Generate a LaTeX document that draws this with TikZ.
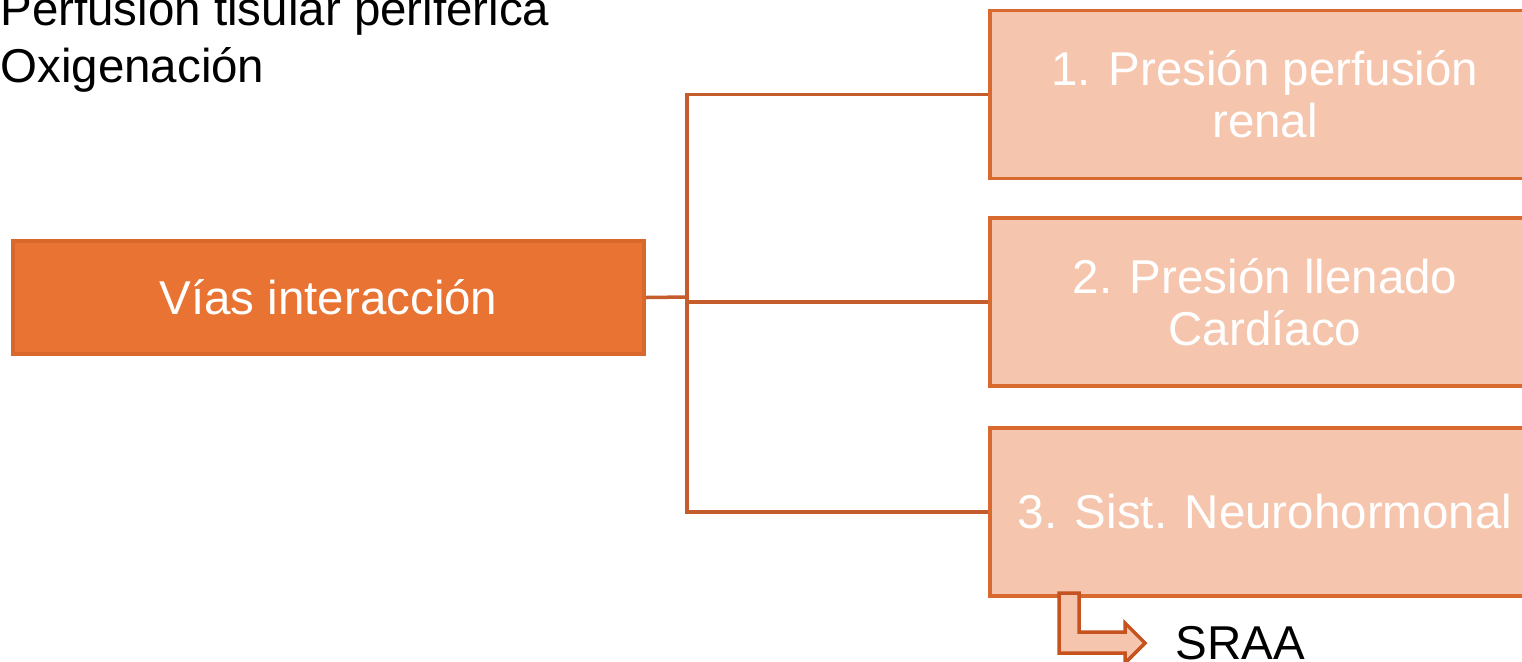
\documentclass[tikz,border=0pt]{standalone}
\usepackage{fontspec}
\setmainfont{Liberation Sans}
\definecolor{mainfill}{HTML}{E87332}
\definecolor{mainborder}{HTML}{D9682C}
\definecolor{boxfill}{HTML}{F5C6AD}
\definecolor{boxborder}{HTML}{D86A30}
\definecolor{linkcol}{HTML}{C45C2C}
\definecolor{arrowborder}{HTML}{C5521F}
\tikzset{
  px/.style={x=0.5pt,y=-0.5pt},
  mainbox/.style={draw=mainborder, fill=mainfill, line width=1.75pt, inner sep=0pt,
    minimum width=315.5pt, minimum height=56.5pt, text=white, align=center,
    font=\fontsize{23.75}{26}\selectfont},
  subbox/.style={draw=boxborder, fill=boxfill, line width=1.75pt, inner sep=0pt,
    minimum width=275pt, minimum height=84pt, text=white, align=center,
    font=\fontsize{23.75}{26}\selectfont},
  link/.style={draw=linkcol, line width=1.75pt},
  plain/.style={inner sep=0pt, text=black, font=\fontsize{23.75}{28.5}\selectfont}
}
\begin{document}
\begin{tikzpicture}[px]
\useasboundingbox (0,0) rectangle (1522,661);
\clip (0,0) rectangle (1522,661);
\node[plain, anchor=base west] (title1) at (0,25) {Perfusión tisular periférica};
\node[plain, anchor=base west] (title2) at (0,82) {Oxigenación};
\node[mainbox] (main) at (328.5,297.5) {Vías interacción};
\node[subbox] (b1) at (1265,94.5) {1. Presión perfusión\\renal};
\node[subbox] (b2) at (1265,302) {2. Presión llenado\\Cardíaco};
\node[subbox] (b3) at (1265,512) {3. Sist. Neurohormonal};
\coordinate (bus) at (687,297);
\draw[link] (main.east) -- (bus);
\draw[link] (b1.west) -- (bus |- b1.west) -- (bus |- b3.west) -- (b3.west);
\draw[link] (b2.west) -- (bus |- b2.west);
\draw[draw=arrowborder, fill=boxfill, line width=1.75pt, line join=miter]
  (1059,593) -- (1079,593) -- (1079,632) -- (1125,632) -- (1125,623) -- (1145,643)
  -- (1125,663) -- (1125,653) -- (1059,653) -- cycle;
\node[plain, anchor=base west] (sraa) at (1175,659) {SRAA};
\end{tikzpicture}
\end{document}
